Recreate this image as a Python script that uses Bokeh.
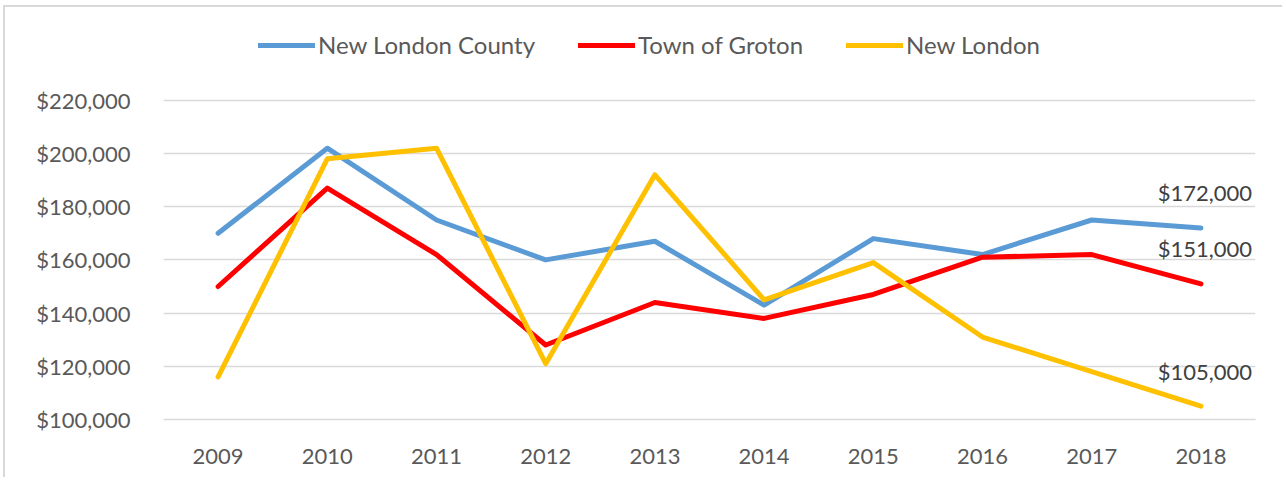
from bokeh.plotting import figure
from bokeh.models import (FactorRange, Range1d, NumeralTickFormatter, FixedTicker,
                          Legend, LegendItem, ColumnDataSource)
from bokeh.embed import file_html
from bokeh.resources import INLINE
from bokeh.core.properties import value

years = ["2009", "2010", "2011", "2012", "2013", "2014", "2015", "2016", "2017", "2018"]
county = [170000, 202000, 175000, 160000, 167000, 143000, 168000, 162000, 175000, 172000]
groton = [150000, 187000, 162000, 128000, 144000, 138000, 147000, 161000, 162000, 151000]
new_london = [116000, 198000, 202000, 121000, 192000, 145000, 159000, 131000, 118000, 105000]
series_names = ["New London County", "Town of Groton", "New London"]
series_values = [county, groton, new_london]
colors = ["#5B9BD5", "#FF0000", "#FFC000"]
y_ticks = [100000, 120000, 140000, 160000, 180000, 200000, 220000]

FONT = "Lato"
TXT = "#595959"

# extra headroom above the top tick holds the legend inside the frame
y_top = y_ticks[-1] + (y_ticks[-1] - y_ticks[0]) / 4

p = figure(x_range=FactorRange(*years), y_range=Range1d(y_ticks[0], y_top),
           width=1279, height=472, output_backend="svg", toolbar_location=None,
           min_border_left=158, min_border_right=29, min_border_top=13, min_border_bottom=60)
p.styles = {"margin-left": "3px", "margin-top": "5px",
            "border-left": "2px solid #D9D9D9", "border-top": "2px solid #D9D9D9"}
p.outline_line_color = None
p.background_fill_color = "white"
p.border_fill_color = "white"

# grid
p.xgrid.grid_line_color = None
p.ygrid.grid_line_color = "#D9D9D9"
p.ygrid.grid_line_width = 1.5
p.yaxis.ticker = FixedTicker(ticks=y_ticks)
p.yaxis.formatter = NumeralTickFormatter(format="$0,0")

for ax in (p.xaxis, p.yaxis):
    ax.major_tick_line_color = None
    ax.minor_tick_line_color = None
    ax.major_tick_out = 0
    ax.major_tick_in = 0
    ax.major_label_text_font = FONT
    ax.major_label_text_font_size = "22px"
    ax.major_label_text_color = TXT
p.yaxis.axis_line_color = None
p.yaxis.major_label_standoff = 33
p.xaxis.axis_line_color = "#D9D9D9"
p.xaxis.axis_line_width = 1.5
p.xaxis.major_label_standoff = 29

renderers = []
for name, vals, col in zip(series_names, series_values, colors):
    r = p.line(years, vals, line_width=5, line_color=col, line_cap="round", line_join="round")
    renderers.append(r)

# data labels for the last year
last = [v[-1] for v in series_values]
lab_src = ColumnDataSource(dict(x=[years[-1]] * len(last), y=last,
                                t=["${:,}".format(v) for v in last]))
p.text(x="x", y="y", text="t", source=lab_src, text_align="center", text_baseline="middle",
       x_offset=4, y_offset=-35, text_font=value(FONT), text_font_size="22px",
       text_color="#404040")

# legend at the top of the frame
lg = Legend(items=[LegendItem(label=n, renderers=[r]) for n, r in zip(series_names, renderers)],
            location=(95, 360), orientation="horizontal", padding=0, margin=0, spacing=43,
            glyph_width=57, glyph_height=20, label_height=20, label_standoff=3,
            label_text_font=FONT, label_text_font_size="24px", label_text_color=TXT,
            label_text_baseline="middle",
            border_line_color=None, background_fill_alpha=0)
p.add_layout(lg, "center")

open("out.html", "w").write(file_html(p, INLINE))
